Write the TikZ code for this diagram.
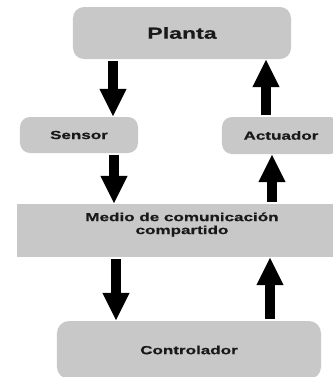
\documentclass[tikz,border=0pt]{standalone}
\usepackage{fontspec}
\newfontfamily\lblfont{Liberation Sans}[FakeStretch=1.45, FakeBold=0.6]
\usetikzlibrary{arrows.meta}
\definecolor{boxgray}{RGB}{200,200,200}
\definecolor{txt}{RGB}{25,25,25}
\tikzset{
  box/.style={fill=boxgray, draw=none, rounded corners=11bp, inner sep=0pt,
    font=\lblfont\bfseries\fontsize{11.8}{13}\selectfont, text=txt, align=center},
  bigarrow/.style={line width=10bp, draw=black, -{Triangle[width=25bp,length=28bp]}, shorten <=2bp},
}
\begin{document}
\begin{tikzpicture}[x=1bp,y=-1bp]
\useasboundingbox (0,0) rectangle (333,377);
\clip (0,0) rectangle (333,377);
\node[box, minimum width=218bp, minimum height=52bp, font=\lblfont\bfseries\fontsize{16}{18}\selectfont] (planta) at (182,33) {Planta};
\node[box, minimum width=118bp, minimum height=36bp, rounded corners=10bp] (sensor) at (79,135) {Sensor};
\node[box, minimum width=118bp, minimum height=37bp, rounded corners=10bp] (actuador) at (281,135.5) {Actuador};
\node[box, rounded corners=0pt, minimum width=330bp, minimum height=53bp,
  label={[name=mediolbl, font=\lblfont\bfseries\fontsize{11.8}{13}\selectfont, text=txt, align=center, yshift=6bp]center:Medio de comunicación\\compartido}] (medio) at (182,230.5) {};
\node[box, minimum width=264bp, minimum height=58bp, rounded corners=12bp] (control) at (189,350) {Controlador};
\coordinate (xa) at (113,0);
\coordinate (xb) at (266,0);
\coordinate (xc) at (114,0);
\coordinate (xd) at (272,0);
\coordinate (xe) at (116,0);
\coordinate (xf) at (270,0);
\draw[bigarrow] (planta.south -| xa) -- (sensor.north -| xa);
\draw[bigarrow] (actuador.north -| xb) -- (planta.south -| xb);
\draw[bigarrow] (sensor.south -| xc) -- (medio.north -| xc);
\draw[bigarrow] (medio.north -| xd) -- (actuador.south -| xd);
\draw[bigarrow] (medio.south -| xe) -- (control.north -| xe);
\draw[bigarrow] (control.north -| xf) -- (medio.south -| xf);
\end{tikzpicture}
\end{document}
